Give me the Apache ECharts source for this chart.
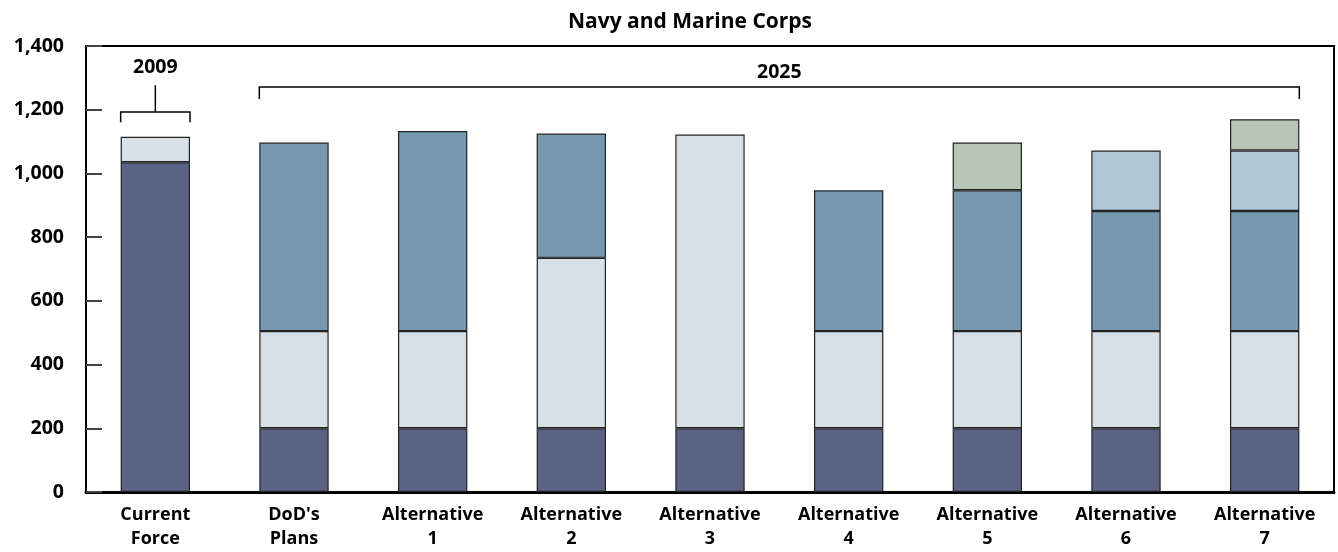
<!DOCTYPE html>
<html>
<head>
<meta charset="utf-8">
<script src="https://cdn.jsdelivr.net/npm/echarts@6/dist/echarts.min.js"></script>
<style>html,body{margin:0;padding:0;background:#fff}#c{width:1338px;height:552px}</style>
</head>
<body>
<div id="c"></div>
<script>
var categories = ['Current\nForce', "DoD's\nPlans", 'Alternative\n1', 'Alternative\n2', 'Alternative\n3', 'Alternative\n4', 'Alternative\n5', 'Alternative\n6', 'Alternative\n7'];
var darkSeg   = [1035, 200, 200, 200, 200, 200, 200, 200, 200];
var lightSeg  = [80, 305, 305, 535, 922, 305, 305, 305, 305];
var mediumSeg = ['-', 592, 628, 390, '-', 442, 442, 377, 377];
var paleBlueSeg = ['-', '-', '-', '-', '-', '-', '-', 190, 190];
var greenSeg  = ['-', '-', '-', '-', '-', '-', 150, '-', 98];
var yTicks = [0, 200, 400, 600, 800, 1000, 1200, 1400];
// brackets: [fromIndex, toIndex, lineValue, tickEndValue, stemTopValue, labelValue]
var bracketLabels = ['2009', '2025'];
var bracketData = [[0, 0, 1193, 1161, 1277, 1334], [1, 8, 1271, 1234, null, 1318]];

var FONT = '"Open Sans", "Noto Sans", sans-serif';
var chart = echarts.init(document.getElementById('c'), null, {renderer: 'canvas'});
function seg(name, data, color) {
  return {
    name: name, type: 'bar', stack: 'total', data: data, barWidth: '50%',
    itemStyle: {color: color, borderColor: '#222', borderWidth: 1.2},
    emphasis: {disabled: true}, silent: true
  };
}
chart.setOption({
  animation: false,
  title: {
    text: 'Navy and Marine Corps', left: 685, textAlign: 'center', top: 7,
    textStyle: {fontFamily: FONT, fontWeight: 'bold', fontSize: 21, color: '#000'}
  },
  grid: {left: 86, right: 4, top: 46, bottom: 60, show: true, borderColor: '#000', borderWidth: 2, backgroundColor: 'transparent'},
  xAxis: {
    type: 'category', data: categories,
    axisLine: {show: true, lineStyle: {color: '#000', width: 3}},
    axisTick: {show: false},
    axisLabel: {fontFamily: FONT, fontWeight: 'bold', fontSize: 18, color: '#000', lineHeight: 24, margin: 11, interval: 0}
  },
  yAxis: {
    type: 'value', min: 0, max: 1400, interval: 200,
    axisLine: {show: false},
    axisTick: {show: true, inside: true, length: 16, lineStyle: {color: '#444', width: 2}},
    splitLine: {show: false},
    axisLabel: {
      fontFamily: FONT, fontWeight: 'bold', fontSize: 19.5, color: '#000', margin: 22,
      formatter: function (v) { return yTicks.indexOf(v) >= 0 ? v.toLocaleString('en-US') : ''; }
    }
  },
  series: [
    seg('dark', darkSeg, '#5a6385'),
    seg('light', lightSeg, '#d8e0e7'),
    seg('medium', mediumSeg, '#7799b0'),
    seg('paleblue', paleBlueSeg, '#b1c7d6'),
    seg('green', greenSeg, '#b8c6b8'),
    {
      type: 'custom', silent: true, z: 10,
      data: bracketData,
      encode: {x: [0, 1], y: [2]},
      renderItem: function (params, api) {
        var d = bracketData[params.dataIndex];
        var band = api.size([1, 0])[0];
        var half = band * 0.25;
        var pL = api.coord([d[0], d[2]]);
        var pR = api.coord([d[1], d[2]]);
        var x0 = pL[0] - half, x1 = pR[0] + half;
        var yL = pL[1];
        var yT = api.coord([d[0], d[3]])[1];
        var yLab = api.coord([d[0], d[5]])[1];
        var ls = {stroke: '#000', lineWidth: 1.5, fill: null};
        var children = [
          {type: 'polyline', shape: {points: [[x0, yT], [x0, yL], [x1, yL], [x1, yT]]}, style: ls}
        ];
        var cx = (x0 + x1) / 2;
        if (d[4] != null) {
          var yS = api.coord([d[0], d[4]])[1];
          children.push({type: 'line', shape: {x1: cx, y1: yL, x2: cx, y2: yS}, style: ls});
        }
        children.push({type: 'text', style: {text: bracketLabels[params.dataIndex], x: cx, y: yLab, align: 'center', verticalAlign: 'middle', fontFamily: FONT, fontWeight: 'bold', fontSize: 19.5, fill: '#000'}});
        return {type: 'group', children: children};
      }
    }
  ]
});
</script>
</body>
</html>
